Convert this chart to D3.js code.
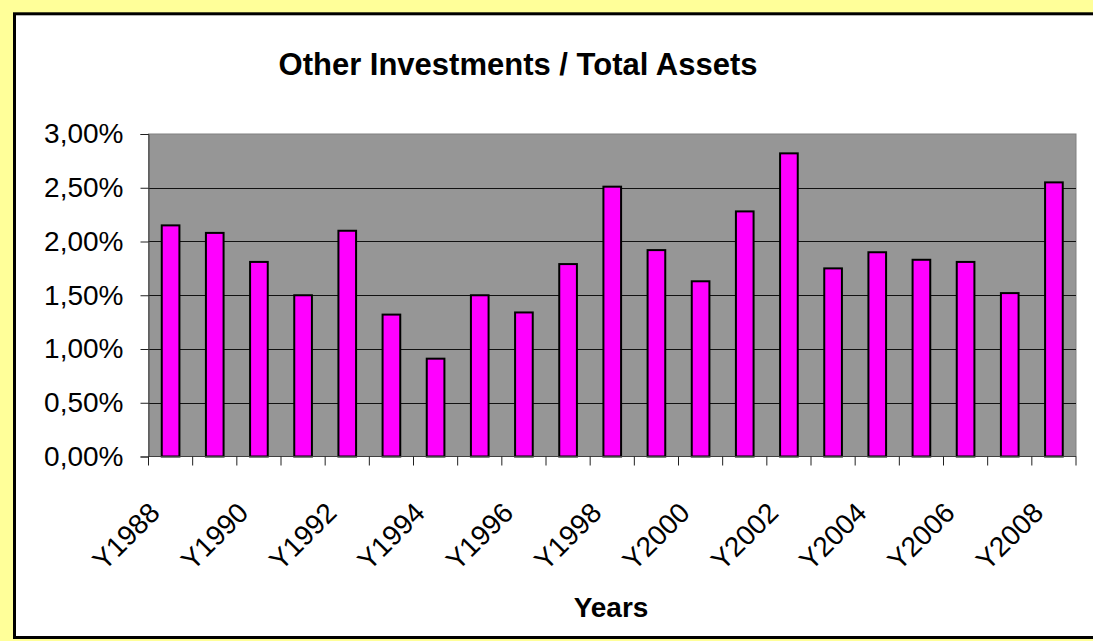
<!DOCTYPE html>
<html>
<head>
<meta charset="utf-8">
<script src="https://cdn.jsdelivr.net/npm/d3@7"></script>
<style>
  body { margin: 0; background: #ffff99; }
  text { font-family: Arial, "Liberation Sans", sans-serif; }
</style>
</head>
<body>
<svg id="chart" width="1093" height="641"></svg>
<script>
// data
const years = ["Y1988", "Y1989", "Y1990", "Y1991", "Y1992", "Y1993", "Y1994", "Y1995", "Y1996", "Y1997", "Y1998",
  "Y1999", "Y2000", "Y2001", "Y2002", "Y2003", "Y2004", "Y2005", "Y2006", "Y2007", "Y2008"]
const ratios = [0.0215, 0.0208, 0.0181, 0.0150, 0.0210, 0.0132, 0.0091, 0.0150, 0.0134, 0.0179, 0.0251,
  0.0192, 0.0163, 0.0228, 0.0282, 0.0175, 0.0190, 0.0183, 0.0181, 0.0152, 0.0255]
const yTicks = [0, 0.005, 0.01, 0.015, 0.02, 0.025, 0.03]
const xLabels = years.filter((d, i) => i % 2 == 0)

const svg = d3.select("#chart")

// plot area box
const plot = { left: 148.5, top: 134, width: 927.5, height: 322.5 }

// yellow page + white chart area with black border
svg.append("rect").attr("x", 0).attr("y", 0).attr("width", 1093).attr("height", 641).style("fill", "#ffff99")
svg.append("rect").attr("x", 14.5).attr("y", 13.8).attr("width", 1100).attr("height", 623.7)
  .style("fill", "#ffffff").style("stroke", "#000").style("stroke-width", 3)

// title
svg.append("text").attr("x", 518).attr("y", 75).attr("text-anchor", "middle")
  .style("font-size", "31px").style("font-weight", "bold").text("Other Investments / Total Assets")

const g = svg.append("g").attr("transform", `translate(${plot.left},${plot.top})`)

g.append("rect").attr("x", 0).attr("y", 0).attr("width", plot.width).attr("height", plot.height)
  .style("fill", "#969696").style("stroke", "#808080").style("stroke-width", 1)

// scales
let xScale = d3.scaleBand()
  .domain(years)
  .range([0, plot.width])
  .paddingInner(0.6)
  .paddingOuter(0.3)

let xCat = d3.scaleBand()
  .domain(years)
  .range([0, plot.width])

let yScale = d3.scaleLinear()
  .domain([0, 0.03])
  .range([plot.height, 0])

const pct = d3.formatLocale({ decimal: ",", thousands: ".", grouping: [3], currency: ["", "€"] }).format(".2%")

// gridlines
g.append("g")
  .selectAll("line")
  .data(yTicks.filter(d => d > 0 && d < 0.03))
  .join("line")
  .attr("x1", 0).attr("x2", plot.width)
  .attr("y1", d => Math.round(yScale(d)) + 0.5).attr("y2", d => Math.round(yScale(d)) + 0.5)
  .style("stroke", "#111").style("stroke-width", 1)

// bars
g.append("g")
  .selectAll("rect")
  .data(ratios)
  .join("rect")
  .attr("x", (d, i) => xScale(years[i]))
  .attr("y", d => yScale(d))
  .attr("width", xScale.bandwidth())
  .attr("height", d => plot.height - yScale(d))
  .style("fill", "#ff00ff")
  .style("stroke", "#000")
  .style("stroke-width", 2)

// y axis
let yAxis = d3.axisLeft(yScale).tickValues(yTicks).tickSize(8).tickPadding(17).tickFormat(pct)
let yAxisGroup = g.append("g").attr("class", "y-axis").call(yAxis)
yAxisGroup.select(".domain").style("stroke", "#404040")
yAxisGroup.selectAll(".tick line").style("stroke", "#202020")
yAxisGroup.selectAll("text").style("font-size", "28px").style("font-family", "Arial, 'Liberation Sans', sans-serif")
  .attr("fill", "#000")

// x axis: tick marks on category boundaries
let xAxisGroup = g.append("g").attr("transform", `translate(0,${plot.height})`)
xAxisGroup.append("line").attr("x1", 0).attr("x2", plot.width).attr("y1", 0).attr("y2", 0)
  .style("stroke", "#404040")
xAxisGroup.selectAll(".xtick")
  .data(years.concat(["end"]))
  .join("line")
  .attr("class", "xtick")
  .attr("x1", d => d == "end" ? plot.width : xCat(d))
  .attr("x2", d => d == "end" ? plot.width : xCat(d))
  .attr("y1", 0).attr("y2", 9)
  .style("stroke", "#202020")

// x labels, every other year, rotated
let xAxis = d3.axisBottom(xCat).tickValues(xLabels).tickSize(0)
let xLabelGroup = g.append("g").attr("transform", `translate(0,${plot.height})`).call(xAxis)
xLabelGroup.select(".domain").remove()
xLabelGroup.selectAll("text")
  .attr("x", 0).attr("y", 0).attr("dy", 0)
  .attr("transform", "translate(-9,58) rotate(-45)")
  .style("text-anchor", "end")
  .style("font-size", "28px").style("font-family", "Arial, 'Liberation Sans', sans-serif")
  .attr("fill", "#000")

// x axis title
svg.append("text").attr("x", 611).attr("y", 617).attr("text-anchor", "middle")
  .style("font-size", "28px").style("font-weight", "bold").text("Years")
</script>
</body>
</html>
